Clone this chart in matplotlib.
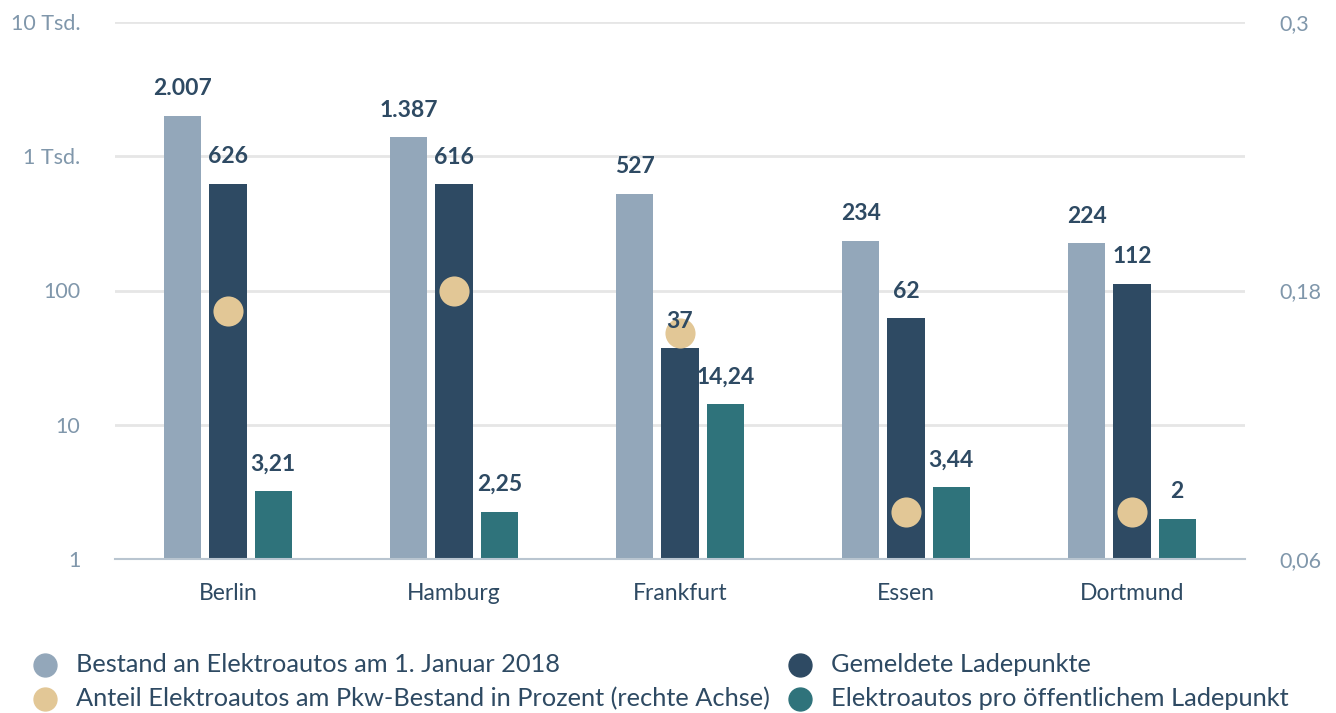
import numpy as np
import matplotlib.pyplot as plt
from matplotlib.lines import Line2D

plt.rcParams['font.family'] = ['Lato', 'DejaVu Sans']

staedte = ['Berlin', 'Hamburg', 'Frankfurt', 'Essen', 'Dortmund']
bestand = [2007, 1387, 527, 234, 224]
ladepunkte = [626, 616, 37, 62, 112]
pro_ladepunkt = [3.21, 2.25, 14.24, 3.44, 2]
anteil = [0.171, 0.180, 0.161, 0.081, 0.081]

y_ticks = [1, 10, 100, 1000, 10000]
y_labels = ['1', '10', '100', '1 Tsd.', '10 Tsd.']
y2_ticks = [0.06, 0.18, 0.3]
y2_labels = ['0,06', '0,18', '0,3']

c_light = '#93a7ba'
c_dark = '#2e4a63'
c_teal = '#2f737b'
c_tan = '#e2c796'
c_tick = '#8097ab'

fig = plt.figure(figsize=(13.36, 7.13), dpi=100)
ax = fig.add_axes([115/1336, 1-559/713, 1130/1336, 537/713])
x = np.arange(len(staedte))
w = 0.164
off = 0.2

ax.bar(x-off, bestand, w, color=c_light, zorder=2)
ax.bar(x, ladepunkte, w, color=c_dark, zorder=2)
ax.bar(x+off, pro_ladepunkt, w, color=c_teal, zorder=2)

ax.set_yscale('log')
ax.set_ylim(1, 10000)
ax.set_xlim(-0.5, 4.5)
ax.set_yticks(y_ticks)
ax.set_yticklabels(y_labels)
ax.minorticks_off()
ax.set_xticks(x)
ax.set_xticklabels(staedte)
ax.tick_params(axis='y', length=0, pad=25, labelsize=15.5, labelcolor=c_tick)
ax.tick_params(axis='x', length=0, pad=17, labelsize=16.5, labelcolor=c_dark)
ax.grid(axis='y', color='#e6e6e6', linewidth=2, zorder=0)
for s in ['top', 'left', 'right']:
    ax.spines[s].set_visible(False)
ax.spines['bottom'].set_color('#b9c5d0')
ax.spines['bottom'].set_linewidth(1.5)
ax.spines['bottom'].set_zorder(3)

ax2 = ax.twinx()
ax2.set_ylim(0.06, 0.3)
ax2.set_yticks(y2_ticks)
ax2.set_yticklabels(y2_labels)
ax2.tick_params(axis='y', length=0, pad=25, labelsize=15.5, labelcolor=c_tick)
for s in ax2.spines.values():
    s.set_visible(False)
ax2.scatter(x, anteil, s=470, color=c_tan, zorder=4, linewidths=0)

def fmt_int(v):
    return f"{v:,.0f}".replace(',', '.')

def fmt_dec(v):
    return f"{v:g}".replace('.', ',')

# value labels drawn on the top axes so they sit above the dots
for xs, vals, f in [(x-off, bestand, fmt_int), (x, ladepunkte, fmt_int), (x+off, pro_ladepunkt, fmt_dec)]:
    for xi, v in zip(xs, vals):
        ax2.annotate(f(v), (xi, v), xycoords=ax.transData, xytext=(0, 19.5), textcoords='offset points',
                     ha='center', va='center', fontsize=16.5, fontweight='bold', color=c_dark, zorder=5)

legend = [
    (45/1336, 'Bestand an Elektroautos am 1. Januar 2018', c_light, 665),
    (45/1336, 'Anteil Elektroautos am Pkw-Bestand in Prozent (rechte Achse)', c_tan, 699),
    (800/1336, 'Gemeldete Ladepunkte', c_dark, 665),
    (800/1336, 'Elektroautos pro öffentlichem Ladepunkt', c_teal, 699),
]
for lx, txt, col, ly in legend:
    yy = 1 - ly/713
    fig.add_artist(Line2D([lx], [yy], marker='o', markersize=16.5, color=col,
                          linestyle='none', transform=fig.transFigure))
    fig.text(lx + 31/1336, yy, txt, fontsize=18.3, color=c_dark, va='center', ha='left')

plt.savefig('out.png', dpi=100)
